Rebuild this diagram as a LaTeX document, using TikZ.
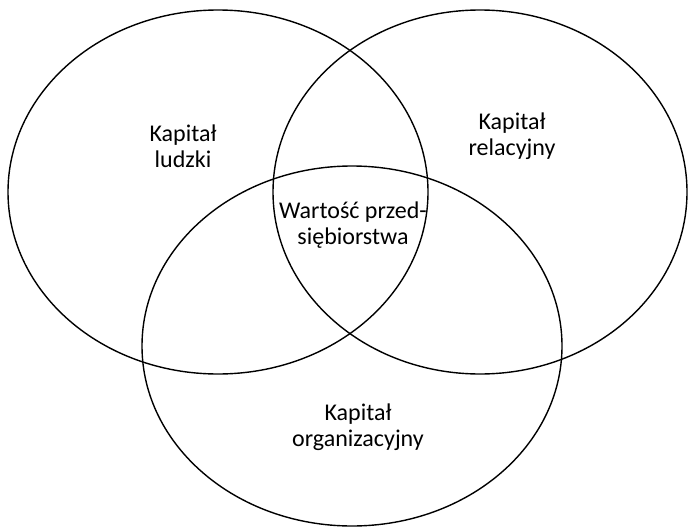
\documentclass[tikz,border=0pt]{standalone}
\usepackage{fontspec}
\setmainfont{Carlito}
\begin{document}
\begin{tikzpicture}[x=1pt,y=-1pt,
  ring/.style={draw=black,line width=1.4pt},
  lbl/.style={align=center,font=\fontsize{24}{26}\selectfont,inner sep=0pt}]
\useasboundingbox (0,0) rectangle (688,527);
\draw[ring] (218,192) ellipse [x radius=210,y radius=182];
\draw[ring] (480,192) ellipse [x radius=207,y radius=182];
\draw[ring] (352,346) ellipse [x radius=210,y radius=180];
\node[lbl] (hc) at (183,146) {Kapitał\\ludzki};
\node[lbl] (rc) at (512,136) {Kapitał\\relacyjny};
\node[lbl] (wp) at (353,225) {Wartość przed-\\siębiorstwa};
\node[lbl] (oc) at (358,427) {Kapitał\\organizacyjny};
\end{tikzpicture}
\end{document}
